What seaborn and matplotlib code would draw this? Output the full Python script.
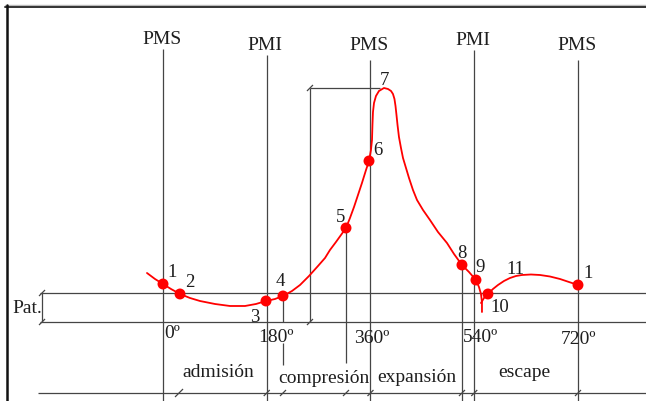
"""Indicator diagram of a four-stroke cycle: pressure vs crank angle."""

import matplotlib

matplotlib.use("Agg")
import matplotlib.pyplot as plt
import pandas as pd
import seaborn as sns

# crank angle (deg) and cylinder pressure (atm)
curve_angle = [-27.8, -13.9, 0, 13.9, 29.5, 46.8, 64.2, 90.2, 116.2, 142.3,
               161.3, 178.7, 194.3, 208.2, 223.8, 237.7, 253.3, 268.9, 281.1,
               289.7, 300.1, 308.8, 317.5, 324.4, 331.4, 338.3, 345.2, 352.2,
               357.4, 360.8, 362.6, 363.4, 364.3, 366.1, 369.5, 374.7, 383.4,
               390.4, 395.6, 399.0, 401.6, 403.4, 405.1, 406.9, 409.4, 412.9,
               416.4, 421.6, 426.8, 433.7, 440.7, 451.1, 463.2, 477.1, 492.7,
               504.9, 518.7, 530.9, 543.0, 548.2, 551.7, 553.4, 553.4]
curve_press = [1.690, 1.483, 1.310, 1.138, 0.966, 0.828, 0.724, 0.621, 0.552,
               0.552, 0.621, 0.724, 0.793, 0.897, 1.069, 1.276, 1.586, 1.931,
               2.207, 2.483, 2.759, 3.000, 3.241, 3.586, 3.966, 4.379, 4.793,
               5.241, 5.552, 5.931, 6.276, 6.793, 7.241, 7.552, 7.793, 7.966,
               8.069, 8.034, 7.966, 7.862, 7.690, 7.448, 7.138, 6.793, 6.379,
               6.000, 5.655, 5.310, 4.966, 4.552, 4.207, 3.862, 3.517, 3.103,
               2.724, 2.345, 1.966, 1.724, 1.448, 1.207, 0.966, 0.690, 0.345]

# exhaust branch leaving the cusp near point 10
exhaust_angle = [551.7, 556.9, 563.8, 572.5, 581.2, 591.6, 602.0, 612.4, 622.8,
                 638.4, 654.1, 671.4, 688.8, 704.4, 720.0]
exhaust_press = [0.655, 0.828, 0.966, 1.138, 1.276, 1.414, 1.517, 1.586, 1.621,
                 1.638, 1.621, 1.569, 1.483, 1.379, 1.276]

point_names = ["1", "2", "3", "4", "5", "6", "8", "9", "10", "1"]
point_angle = [0, 29.5, 178.7, 208.2, 317.5, 357.4, 518.7, 543.0, 563.8, 720]
point_press = [1.310, 0.966, 0.724, 0.897, 3.241, 5.552, 1.966, 1.448, 0.966, 1.276]

stroke_angle = [0, 180, 360, 540, 720]
stroke_names = ["PMS", "PMI", "PMS", "PMI", "PMS"]
angle_labels = ["0º", "180º", "360º", "540º", "720º"]
phase_names = ["admisión", "compresión", "expansión", "escape"]

# ---- layout (data units: degrees / atm) ----
XMIN, XMAX = -282.8, 838.0
YMIN, YMAX = -2.724, 11.103
DX, DY = 0.5764, 29.0          # pixels per degree / per atm
P_ATM, P_ZERO, P_BASE = 1.0, 0.0, -2.448
GREY = "#454545"
RED = "#ff0000"
INK = "#1e1e1e"

stroke_top = [9.41, 9.21, 9.03, 9.38, 9.03]
stroke_text_y = [9.59, 9.38, 9.38, 9.55, 9.38]
angle_text_x = [1.7, 196, 362.6, 551.7, 720.8]
angle_text_y = [-0.55, -0.69, -0.72, -0.69, -0.76]
phase_x = [95.4, 278.5, 440.7, 626.3]
phase_y = [-1.90, -2.10, -2.07, -1.90]
# label offsets (pixels) from each marker
label_off = [(9, 7), (10, 7), (-11, -21), (-3, 10), (-5, 6), (9, 6),
             (0, 7), (4, 8), (12, -18), (10, 7)]

sns.set_theme(style="white")
plt.rcParams["font.family"] = ["Liberation Serif", "DejaVu Serif"]

fig = plt.figure(figsize=(6.46, 4.01), dpi=100)
ax = fig.add_axes([0, 0, 1, 1])

line_kw = dict(color=GREY, lw=0.9, solid_capstyle="butt")


def slash(x, y, half=3):
    ax.plot([x - half / DX, x + half / DX], [y - half / DY, y + half / DY], **line_kw)


# horizontal reference lines
ax.plot([-213, XMAX], [P_ATM, P_ATM], **line_kw)
ax.plot([-213, XMAX], [P_ZERO, P_ZERO], **line_kw)
ax.plot([-217, XMAX], [P_BASE, P_BASE], **line_kw)
ax.plot([-209.9, -209.9], [P_ZERO, P_ATM], **line_kw)
slash(-209.9, P_ZERO)
slash(-209.9, P_ATM)
ax.text(-262, 0.31, "Pat.", fontsize=14, ha="left", va="baseline", color=INK)

# peak pressure dimension
p_peak = max(curve_press)
ax.plot([255, 376.5], [p_peak, p_peak], **line_kw)
ax.plot([255, 255], [p_peak, P_ZERO], **line_kw)
slash(255, p_peak)
slash(255, P_ZERO)

# dead centres
for a, top, name, ty in zip(stroke_angle, stroke_top, stroke_names, stroke_text_y):
    ax.plot([a, a], [top, YMIN], **line_kw)
    ax.text(a - 2.5, ty, name, fontsize=14, ha="center", va="baseline", color=INK)

for i, (lab, tx, ty) in enumerate(zip(angle_labels, angle_text_x, angle_text_y)):
    ax.text(tx, ty, lab, fontsize=14, ha="left" if i == 0 else "center",
            va="baseline", color=INK)

# drop lines from points 4, 5 and 8
ax.plot([208.2, 208.2], [0.897, P_ZERO], **line_kw)
ax.plot([208.2, 208.2], [-0.724, -1.483], **line_kw)
ax.plot([317.5, 317.5], [3.241, -1.414], **line_kw)
ax.plot([518.7, 518.7], [1.966, YMIN], **line_kw)

slash(27.8, P_BASE, half=4)
for a in [180, 208.2, 317.5, 360, 518.7, 540, 720]:
    slash(a, P_BASE)

for name, x, y in zip(phase_names, phase_x, phase_y):
    ax.text(x, y, name, fontsize=14, ha="center", va="baseline", color=INK)

# indicator curve
main = pd.DataFrame({"angle": curve_angle, "pressure": curve_press})
exhaust = pd.DataFrame({"angle": exhaust_angle, "pressure": exhaust_press})
for df in (main, exhaust):
    sns.lineplot(data=df, x="angle", y="pressure", sort=False, estimator=None,
                 color=RED, lw=1.3, solid_joinstyle="round", ax=ax)

pts = pd.DataFrame({"angle": point_angle, "pressure": point_press})
sns.scatterplot(data=pts, x="angle", y="pressure", color=RED, s=62,
                edgecolor="none", ax=ax, zorder=5)

for name, a, p, (ox, oy) in zip(point_names, point_angle, point_press, label_off):
    ax.annotate(name, (a, p), xytext=(ox * 0.72, oy * 0.72), textcoords="offset points",
                fontsize=13.5, ha="center", va="baseline", color=INK)

ax.text(383.4, 8.17, "7", fontsize=13.5, ha="center", va="baseline", color=INK)
ax.text(610.7, 1.66, "11", fontsize=13.5, ha="center", va="baseline", color=INK)

ax.set_xlim(XMIN, XMAX)
ax.set_ylim(YMIN, YMAX)
ax.axis("off")

# frame (top and left only)
ax.plot([5 / 646, 1], [1 - 5 / 401, 1 - 5 / 401], transform=ax.transAxes,
        color="#bbbbbb", lw=1.0, clip_on=False)
ax.plot([5 / 646, 1], [1 - 6.5 / 401, 1 - 6.5 / 401], transform=ax.transAxes,
        color="#333333", lw=1.4, clip_on=False)
ax.plot([6.5 / 646, 6.5 / 646], [1 - 5 / 401, 0], transform=ax.transAxes,
        color="#111111", lw=1.8, clip_on=False)

fig.savefig("out.png", dpi=100)
